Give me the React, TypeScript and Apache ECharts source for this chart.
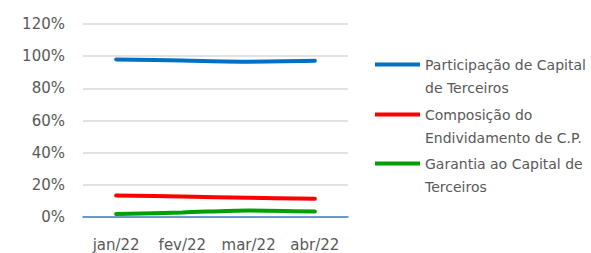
import React, { useEffect, useRef } from "react";
import * as echarts from "echarts";

const categories = ["jan/22", "fev/22", "mar/22", "abr/22"];
const seriesNames = [
  "Participação de Capital de Terceiros",
  "Composição do Endividamento de C.P.",
  "Garantia ao Capital de Terceiros",
];
const legendLabels = [
  "Participação de Capital\nde Terceiros",
  "Composição do\nEndividamento de C.P.",
  "Garantia ao Capital de\nTerceiros",
];
const participacao = [98.0, 97.3, 96.6, 97.1];
const composicao = [13.4, 12.7, 12.0, 11.3];
const garantia = [1.9, 2.8, 4.1, 3.4];
const colors = ["#0070C0", "#FF0000", "#00A000"];
const yTicks = { min: 0, max: 120, interval: 20 };

export default function App() {
  const ref = useRef<HTMLDivElement>(null);
  useEffect(() => {
    if (!ref.current) return;
    const chart = echarts.init(ref.current, null, { renderer: "svg" });
    const values = [participacao, composicao, garantia];
    const legendTops = [30, 80, 129];
    chart.setOption({
      animation: false,
      backgroundColor: "#ffffff",
      grid: { left: 83, right: 243, top: 24, bottom: 36, containLabel: false },
      xAxis: {
        type: "category",
        data: categories,
        boundaryGap: true,
        axisTick: { show: false },
        axisLine: { lineStyle: { color: "#4A7EBB", width: 1.5 } },
        axisLabel: {
          interval: 0,
          color: "#595959",
          fontFamily: "DejaVu Sans",
          fontSize: 15,
          margin: 20,
        },
      },
      yAxis: {
        type: "value",
        min: yTicks.min,
        max: yTicks.max,
        interval: yTicks.interval,
        axisLine: { show: false },
        axisTick: { show: false },
        splitLine: { lineStyle: { color: "#D9D9D9", width: 1.5 } },
        axisLabel: {
          color: "#595959",
          fontFamily: "DejaVu Sans",
          fontSize: 15,
          margin: 18,
          formatter: (v: number) => v + "%",
        },
      },
      legend: seriesNames.map((n, i) => ({
        data: [n],
        orient: "vertical",
        left: 375,
        top: legendTops[i],
        padding: 0,
        icon: "rect",
        itemWidth: 45,
        itemHeight: 4,
        itemGap: 5,
        selectedMode: false,
        formatter: () => "\n" + legendLabels[i],
        textStyle: {
          color: "#595959",
          fontFamily: "DejaVu Sans",
          fontSize: 14,
          lineHeight: 23,
        },
      })),
      series: seriesNames.map((n, i) => ({
        name: n,
        type: "line",
        data: values[i],
        smooth: 0.3,
        symbol: "none",
        color: colors[i],
        lineStyle: { color: colors[i], width: 4, cap: "round" },
      })),
    });
    return () => chart.dispose();
  }, []);
  return (
    <div
      ref={ref}
      style={{ position: "absolute", left: 0, top: 0, width: 591, height: 253 }}
    />
  );
}
